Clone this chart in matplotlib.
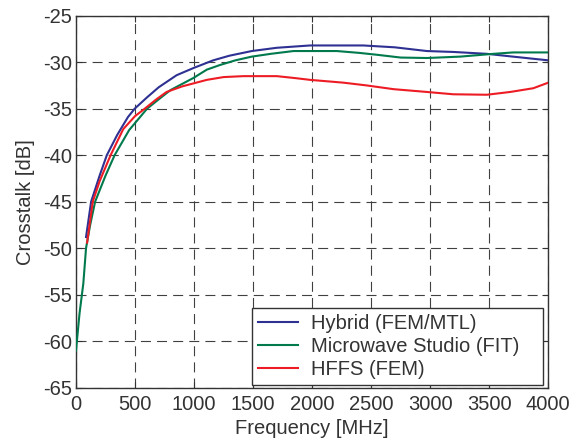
import matplotlib
matplotlib.use("Agg")
import matplotlib.pyplot as plt

plt.rcParams['font.family'] = ['Liberation Sans', 'DejaVu Sans']
plt.rcParams['axes.unicode_minus'] = False

# Data
hybrid_f = [85, 128, 200, 261, 350, 440, 497, 600, 700, 852, 1000, 1162, 1300, 1489,
            1700, 1983, 2200, 2433, 2700, 2972, 3200, 3480, 3700, 4000]
hybrid_db = [-48.8, -45.0, -42.2, -40.0, -37.8, -35.9, -35.0, -33.8, -32.7, -31.4, -30.6,
             -29.8, -29.3, -28.8, -28.45, -28.2, -28.2, -28.2, -28.4, -28.8, -28.9, -29.1,
             -29.4, -29.8]

mws_f = [0, 30, 62, 85, 120, 162, 250, 327, 450, 602, 700, 800, 994, 1108, 1220, 1350,
         1489, 1650, 1842, 2000, 2209, 2400, 2548, 2750, 2972, 3254, 3536, 3703, 4000]
mws_db = [-61.0, -57.0, -53.8, -50.0, -47.5, -45.0, -42.2, -40.0, -37.3, -35.0, -34.0,
          -33.0, -31.7, -30.8, -30.3, -29.8, -29.4, -29.1, -28.8, -28.8, -28.8, -29.0,
          -29.2, -29.5, -29.55, -29.4, -29.1, -28.95, -28.95]

hfss_f = [94, 142, 200, 293, 400, 500, 582, 680, 767, 900, 1108, 1250, 1418, 1550, 1700,
          1850, 1983, 2264, 2463, 2689, 2972, 3195, 3480, 3678, 3873, 4000]
hfss_db = [-49.4, -45.0, -42.8, -40.0, -37.2, -35.8, -35.0, -34.0, -33.2, -32.6, -31.9,
           -31.6, -31.5, -31.5, -31.5, -31.7, -31.9, -32.2, -32.5, -32.9, -33.2, -33.45,
           -33.5, -33.2, -32.8, -32.2]

labels = ["Hybrid (FEM/MTL)", "Microwave Studio (FIT)", "HFFS (FEM)"]
xticks = [0, 500, 1000, 1500, 2000, 2500, 3000, 3500, 4000]
yticks = [-65, -60, -55, -50, -45, -40, -35, -30, -25]

text_color = '#333333'
fs = 14.5

fig = plt.figure(figsize=(5.71, 4.41), dpi=100)
ax = fig.add_axes([0.1331, 0.1209, 0.8271, 0.8435])

ax.plot(hybrid_f, hybrid_db, color='#2e3192', lw=1.5, label=labels[0], zorder=3)
ax.plot(mws_f, mws_db, color='#007a4d', lw=1.5, label=labels[1], zorder=3)
ax.plot(hfss_f, hfss_db, color='#ed1c24', lw=1.5, label=labels[2], zorder=4)

ax.set_xlim(0, 4000)
ax.set_ylim(-65, -25)
ax.set_xticks(xticks)
ax.set_yticks(yticks)
ax.grid(True, color='#404040', linestyle=(0, (9, 5.5)), linewidth=0.8)
ax.tick_params(direction='in', top=True, right=True, labelsize=fs, colors=text_color,
               length=4, width=0.8)
ax.tick_params(axis='x', pad=5)
ax.tick_params(axis='y', pad=3)
for s in ax.spines.values():
    s.set_color('#333333')
    s.set_linewidth(1.0)

ax.set_xlabel("Frequency [MHz]", fontsize=fs, color=text_color, labelpad=4)
ax.set_ylabel("Crosstalk [dB]", fontsize=fs, color=text_color, labelpad=6)

leg = ax.legend(loc='lower left', bbox_to_anchor=(0.3726, 0.0075, 0.6168, 0.2),
                mode='expand', fontsize=fs, frameon=True, fancybox=False,
                edgecolor='#333333', framealpha=1, handlelength=2.0,
                handletextpad=0.65, borderaxespad=0.0, labelspacing=0.2,
                borderpad=0.3)
leg.get_frame().set_linewidth(1.0)
for t in leg.get_texts():
    t.set_color(text_color)

fig.savefig("out.png", dpi=100)
